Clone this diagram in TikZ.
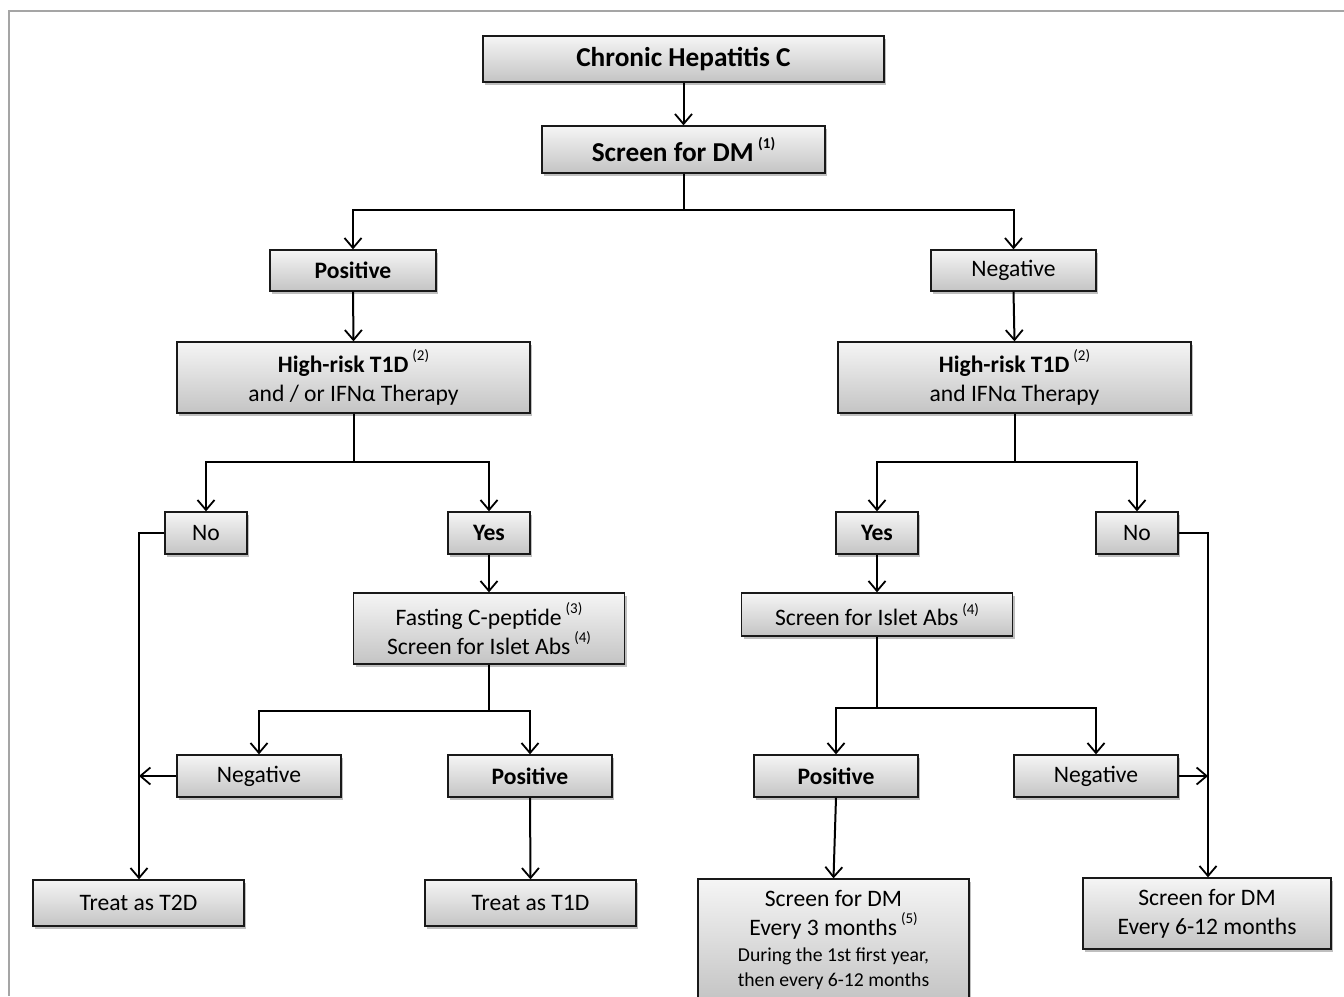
\documentclass[tikz,border=0pt]{standalone}
\usepackage{fontspec}
\setmainfont{Carlito}
\usetikzlibrary{arrows.meta,shadows}
\definecolor{boxtop}{RGB}{245,245,245}
\definecolor{boxbot}{RGB}{196,196,196}
\definecolor{framegray}{RGB}{165,165,165}
\newcommand{\refn}[1]{\,\raisebox{0.5em}{\fontsize{15}{15}\selectfont(#1)}}
\begin{document}
\begin{tikzpicture}[x=1pt,y=-1pt,
 box/.style={draw=black!90, line width=1.3pt, top color=boxtop, bottom color=boxbot,
   drop shadow={shadow xshift=2pt,shadow yshift=-3pt,fill=black,opacity=0.25},
   align=center, inner sep=0pt, font=\fontsize{23.6}{29}\selectfont},
 big/.style={font=\fontsize{27.3}{30}\selectfont\bfseries},
 conn/.style={line width=2pt},
 arr/.style={conn,-{Straight Barb[length=10pt,width=17pt,line width=1.8pt]}},
]
\clip (0,0) rectangle (1344,996);
\useasboundingbox (0,0) rectangle (1344,996);
\fill[white] (0,0) rectangle (1344,996);
\draw[framegray, line width=2pt] (1344,10.5) -- (9,10.5) -- (9,996);

% nodes
\node[box, big, minimum width=401pt, minimum height=46pt] (chc) at (683.5,59) {Chronic Hepatitis C};
\node[box, big, minimum width=283pt, minimum height=47pt] (sdm) at (683.5,149.5) {Screen for DM\refn{1}};
\node[box, minimum width=166pt, minimum height=41pt] (posA) at (353,270.5) {\textbf{Positive}};
\node[box, minimum width=165pt, minimum height=41pt] (negA) at (1013.5,270.5) {Negative};
\node[box, minimum width=353pt, minimum height=71pt] (hrL) at (353.5,377.5) {\textbf{High-risk T1D}\refn{2}\\and / or IFNα Therapy};
\node[box, minimum width=353pt, minimum height=71pt] (hrR) at (1014.5,377.5) {\textbf{High-risk T1D}\refn{2}\\and IFNα Therapy};
\node[box, minimum width=82pt, minimum height=42pt] (noL) at (206,533) {No};
\node[box, minimum width=82pt, minimum height=42pt] (yesL) at (489,533) {\textbf{Yes}};
\node[box, minimum width=82pt, minimum height=42pt] (yesR) at (877,533) {\textbf{Yes}};
\node[box, minimum width=82pt, minimum height=42pt] (noR) at (1137,533) {No};
\node[box, minimum width=271pt, minimum height=71pt] (fcp) at (489,628.5) {Fasting C-peptide\refn{3}\\Screen for Islet Abs\refn{4}};
\node[box, minimum width=271pt, minimum height=43pt] (isl) at (877,614.5) {Screen for Islet Abs\refn{4}};
\node[box, minimum width=164pt, minimum height=42pt] (negL) at (259,776) {Negative};
\node[box, minimum width=164pt, minimum height=42pt] (posL) at (530,776) {\textbf{Positive}};
\node[box, minimum width=164pt, minimum height=42pt] (posR) at (836,776) {\textbf{Positive}};
\node[box, minimum width=164pt, minimum height=42pt] (negR) at (1096,776) {Negative};
\node[box, minimum width=211pt, minimum height=46pt] (t2d) at (138.5,903) {Treat as T2D};
\node[box, minimum width=211pt, minimum height=46pt] (t1d) at (530.5,903) {Treat as T1D};
\node[box, minimum width=271pt, minimum height=122pt] (s3) at (833.5,940) {Screen for DM\\Every 3 months\refn{5}\\[-3pt]{\fontsize{19.7}{23}\selectfont During the 1st first year,}\\[-4pt]{\fontsize{19.7}{23}\selectfont then every 6-12 months}};
\node[box, minimum width=248pt, minimum height=71pt] (s612) at (1207,913.5) {Screen for DM\\Every 6-12 months};

% junctions
\coordinate (j1) at (683.5,210);
\coordinate (j2) at (353.5,462);
\coordinate (j3) at (1014.5,462);
\coordinate (j4) at (489,711);
\coordinate (j5) at (877,708);
\coordinate (cl) at (139,533);
\coordinate (cr) at (1208,533);

% connectors
\draw[arr] (chc.south) -- (sdm.north);
\draw[conn] (sdm.south) -- (j1);
\draw[arr] (j1) -| (posA.north);
\draw[arr] (j1) -| (negA.north);
\draw[arr] (posA.south) -- (hrL.north);
\draw[arr] (negA.south) -- (hrR.north);
\draw[conn] (hrL.south) -- (j2);
\draw[arr] (j2) -| (noL.north);
\draw[arr] (j2) -| (yesL.north);
\draw[conn] (hrR.south) -- (j3);
\draw[arr] (j3) -| (yesR.north);
\draw[arr] (j3) -| (noR.north);
\draw[arr] (yesL.south) -- (fcp.north);
\draw[arr] (yesR.south) -- (isl.north);
\draw[conn] (fcp.south) -- (j4);
\draw[arr] (j4) -| (negL.north);
\draw[arr] (j4) -| (posL.north);
\draw[conn] (isl.south) -- (j5);
\draw[arr] (j5) -| (posR.north);
\draw[arr] (j5) -| (negR.north);
\draw[arr] (noL.west) -- (cl) -- (cl |- t2d.north);
\draw[arr] (negL.west) -- (negL.west -| cl);
\draw[arr] (posL.south) -- (t1d.north);
\draw[arr] (posR.south) -- (s3.north);
\draw[arr] (noR.east) -- (cr) -- (cr |- s612.north);
\draw[arr] (negR.east) -- (negR.west -| cr);
\end{tikzpicture}
\end{document}
